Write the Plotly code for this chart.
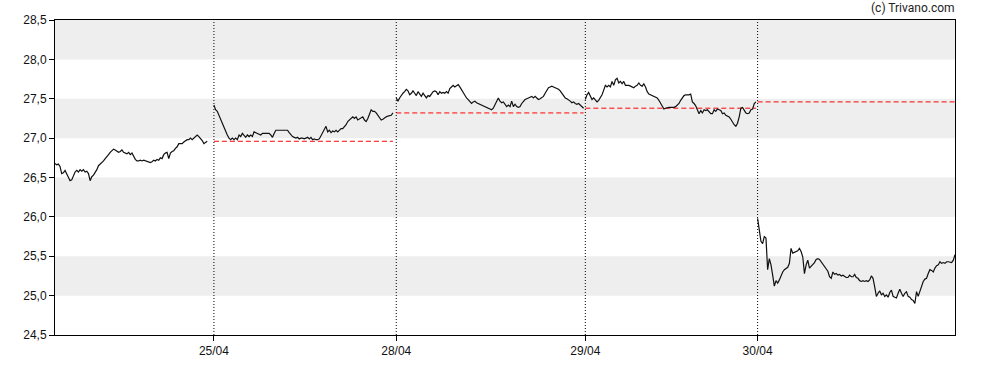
import plotly.graph_objects as go

# ---- data -------------------------------------------------------------
day_labels = ["24/04", "25/04", "28/04", "29/04", "30/04"]
day_sizes = [95, 109, 113, 103, 119]          # intraday sample slots per session
prev_close = [None, 26.96, 27.32, 27.38, 27.46]

day0 = [26.68, 26.66, 26.67, 26.64, 26.55, 26.56, 26.59, 26.54, 26.51, 26.46,
        26.47, 26.52, 26.57, 26.59, 26.57, 26.60, 26.58, 26.60, 26.57, 26.58,
        26.55, 26.46, 26.51, 26.53, 26.56, 26.60, 26.65, 26.67, 26.68, 26.71,
        26.74, 26.76, 26.79, 26.82, 26.84, 26.86, 26.85, 26.84, 26.82, 26.83,
        26.85, 26.82, 26.81, 26.80, 26.82, 26.79, 26.81, 26.76, 26.73, 26.71,
        26.71, 26.72, 26.71, 26.72, 26.71, 26.70, 26.70, 26.69, 26.70, 26.72,
        26.71, 26.73, 26.72, 26.75, 26.74, 26.79, 26.81, 26.82, 26.74, 26.81,
        26.83, 26.84, 26.87, 26.89, 26.93, 26.93, 26.93, 26.95, 26.97, 26.98,
        26.98, 27.00, 26.98, 27.00, 27.02, 27.04, 27.02, 27.00, 26.97, 26.93,
        26.95, 26.96]

day1 = [27.42, 27.36, 27.34, 27.29, 27.23, 27.17, 27.12, 27.09, 27.04, 27.00,
        26.98, 27.00, 26.98, 27.00, 26.98, 27.04, 27.02, 27.06, 27.04, 27.01,
        27.04, 27.02, 27.04, 27.02, 27.08, 27.07, 27.06, 27.05, 27.04, 27.06,
        27.06, 27.06, 27.06, 27.06, 27.04, 27.01, 27.06, 27.10, 27.10, 27.10,
        27.10, 27.10, 27.10, 27.10, 27.10, 27.07, 27.04, 27.02, 27.01, 27.00,
        27.01, 26.99, 27.00, 27.00, 26.99, 27.00, 27.01, 26.99, 27.01, 26.98,
        26.99, 26.98, 26.98, 26.99, 27.03, 27.07, 27.12, 27.15, 27.08, 27.10,
        27.07, 27.09, 27.08, 27.10, 27.08, 27.10, 27.12, 27.12, 27.14, 27.17,
        27.21, 27.23, 27.25, 27.27, 27.25, 27.27, 27.23, 27.24, 27.26, 27.27,
        27.23, 27.21, 27.25, 27.32, 27.36, 27.34, 27.34, 27.32, 27.29, 27.26,
        27.23, 27.24, 27.26, 27.27, 27.28, 27.29, 27.29, 27.32]

day2 = [27.51, 27.47, 27.51, 27.55, 27.57, 27.59, 27.62, 27.60, 27.55, 27.57,
        27.60, 27.57, 27.54, 27.59, 27.56, 27.53, 27.57, 27.54, 27.51, 27.54,
        27.53, 27.56, 27.59, 27.60, 27.59, 27.55, 27.59, 27.57, 27.58, 27.57,
        27.59, 27.57, 27.63, 27.65, 27.67, 27.65, 27.67, 27.68, 27.65, 27.61,
        27.57, 27.53, 27.51, 27.49, 27.46, 27.44, 27.46, 27.47, 27.45, 27.44,
        27.43, 27.42, 27.41, 27.40, 27.39, 27.38, 27.37, 27.36, 27.38, 27.43,
        27.47, 27.51, 27.47, 27.45, 27.46, 27.42, 27.40, 27.42, 27.40, 27.47,
        27.40, 27.43, 27.40, 27.39, 27.40, 27.44, 27.47, 27.49, 27.50, 27.51,
        27.51, 27.53, 27.51, 27.53, 27.51, 27.49, 27.50, 27.51, 27.53, 27.57,
        27.61, 27.64, 27.65, 27.66, 27.65, 27.64, 27.63, 27.62, 27.60, 27.57,
        27.54, 27.51, 27.50, 27.49, 27.47, 27.45, 27.46, 27.44, 27.43, 27.44,
        27.42, 27.40, 27.38]

day3 = [27.49, 27.55, 27.58, 27.53, 27.49, 27.51, 27.48, 27.46, 27.48, 27.51,
        27.55, 27.61, 27.67, 27.65, 27.67, 27.65, 27.72, 27.67, 27.74, 27.76,
        27.70, 27.72, 27.69, 27.72, 27.67, 27.67, 27.67, 27.66, 27.65, 27.64,
        27.66, 27.67, 27.70, 27.67, 27.66, 27.69, 27.65, 27.59, 27.56, 27.55,
        27.55, 27.53, 27.53, 27.51, 27.48, 27.44, 27.40, 27.37, 27.38, 27.39,
        27.39, 27.39, 27.39, 27.39, 27.40, 27.42, 27.44, 27.48, 27.51, 27.54,
        27.55, 27.55, 27.55, 27.56, 27.46, 27.44, 27.41, 27.36, 27.31, 27.35,
        27.32, 27.36, 27.35, 27.36, 27.34, 27.31, 27.31, 27.36, 27.34, 27.37,
        27.36, 27.35, 27.31, 27.32, 27.29, 27.28, 27.27, 27.24, 27.20, 27.17,
        27.15, 27.19, 27.27, 27.38, 27.39, 27.35, 27.32, 27.31, 27.32, 27.36,
        27.37, 27.44, 27.46]

day4 = [25.98, 25.83, 25.69, 25.66, 25.75, 25.73, 25.33, 25.47, 25.39, 25.26,
        25.12, 25.19, 25.16, 25.20, 25.26, 25.30, 25.33, 25.35, 25.36, 25.41,
        25.60, 25.54, 25.55, 25.56, 25.57, 25.60, 25.56, 25.49, 25.28, 25.39,
        25.45, 25.35, 25.37, 25.39, 25.42, 25.46, 25.47, 25.46, 25.43, 25.39,
        25.36, 25.33, 25.31, 25.24, 25.22, 25.30, 25.27, 25.28, 25.26, 25.27,
        25.25, 25.26, 25.24, 25.23, 25.23, 25.26, 25.24, 25.24, 25.27, 25.23,
        25.22, 25.19, 25.18, 25.19, 25.18, 25.19, 25.18, 25.20, 25.25, 25.22,
        25.11, 24.99, 25.03, 25.06, 25.01, 25.03, 24.99, 25.01, 24.98, 25.04,
        25.07, 24.99, 24.98, 24.97, 25.03, 25.08, 25.03, 24.99, 25.03, 25.05,
        24.99, 24.98, 24.95, 24.94, 24.90, 25.05, 24.99, 25.05, 25.13, 25.18,
        25.21, 25.22, 25.28, 25.33, 25.32, 25.30, 25.35, 25.38, 25.39, 25.43,
        25.41, 25.42, 25.41, 25.43, 25.43, 25.42, 25.42, 25.45, 25.52]

days = [day0, day1, day2, day3, day4]
y_min, y_max, y_step = 24.5, 28.5, 0.5
band_starts = [25.0, 26.0, 27.0, 28.0]

# ---- build ------------------------------------------------------------
day_starts = []
acc = 0
for s in day_sizes:
    day_starts.append(acc)
    acc += s
x_end = acc - 1

xs, ys = [], []
for start, vals in zip(day_starts, days):
    xs += [start + i for i in range(len(vals))] + [None]
    ys += list(vals) + [None]

fig = go.Figure()

shapes = []
for b in band_starts:
    shapes.append(dict(type="rect", xref="paper", x0=0, x1=1, yref="y",
                       y0=b, y1=b + y_step, fillcolor="#eeeeee",
                       line=dict(width=0), layer="below"))
for s in day_starts[1:]:
    shapes.append(dict(type="line", xref="x", x0=s, x1=s, yref="paper",
                       y0=0, y1=1, line=dict(color="#000000", width=1, dash="1px,2px"),
                       layer="below"))

# previous close reference lines
for start, vals, pc in zip(day_starts, days, prev_close):
    if pc is None:
        continue
    end = start + len(vals) - 1 if start != day_starts[-1] else x_end
    fig.add_trace(go.Scatter(x=[start, end], y=[pc, pc], mode="lines",
                             line=dict(color="#ff0000", width=1, dash="5px,3px"),
                             hoverinfo="skip", showlegend=False))

fig.add_trace(go.Scatter(x=xs, y=ys, mode="lines", connectgaps=False,
                         line=dict(color="#111111", width=1.2),
                         showlegend=False))

axis_font = dict(family="Liberation Sans, Arial, sans-serif", size=12, color="#111111")

fig.update_layout(
    width=988, height=370,
    margin=dict(l=55, r=33, t=20, b=35),
    paper_bgcolor="white", plot_bgcolor="white",
    separators=", ",
    shapes=shapes,
    showlegend=False,
    xaxis=dict(range=[0, x_end], tickmode="array",
               tickvals=day_starts[1:], ticktext=day_labels[1:],
               ticks="outside", ticklen=5, tickcolor="#000000",
               showline=True, linecolor="#000000", linewidth=1, mirror=True,
               showgrid=False, zeroline=False, tickfont=axis_font),
    yaxis=dict(range=[y_min, y_max], tick0=y_min, dtick=y_step, tickformat=".1f",
               ticks="outside", ticklen=5, tickcolor="#000000",
               showline=True, linecolor="#000000", linewidth=1, mirror=True,
               showgrid=False, zeroline=False, tickfont=axis_font),
    annotations=[dict(text="(c) Trivano.com", xref="paper", yref="paper",
                      x=1, y=1.038, xanchor="right", yanchor="middle", xshift=2,
                      showarrow=False,
                      font=dict(family="Roboto, sans-serif", size=12, color="#222222"))],
)

fig.write_html("out.html", config={"displayModeBar": False},
               post_script="document.body.style.margin='0';document.body.style.overflow='hidden';")
